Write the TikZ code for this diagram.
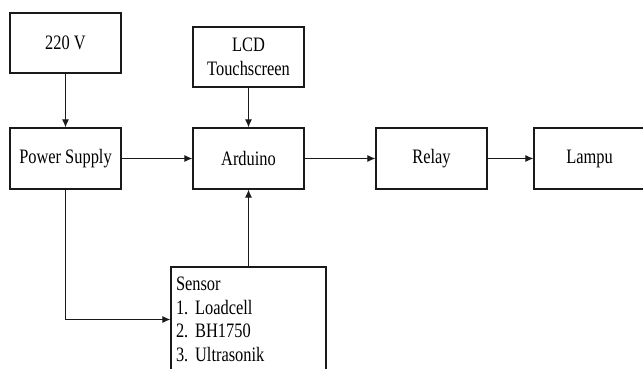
\documentclass[tikz,border=0pt]{standalone}
\usepackage{fontspec}
\setmainfont{Liberation Serif}[FakeStretch=0.8]
\usetikzlibrary{arrows.meta, positioning}
\definecolor{bline}{HTML}{1A1A1A}
\tikzset{
  >=Latex,
  font=\fontsize{20.5}{23.5}\selectfont\frenchspacing,
  blok/.style={
    draw=bline, fill=white, line width=1.2pt,
    align=center, inner sep=4pt,
    minimum width=111pt, minimum height=61pt
  },
  daftar/.style={
    draw=bline, fill=white, line width=1.2pt,
    align=left, inner xsep=5pt, text width=145pt,
    minimum height=105pt
  },
  arr/.style={-{Latex[length=8pt,width=7pt]}, line width=1.1pt, draw=bline}
}
\begin{document}
\begin{tikzpicture}[x=1pt,y=-1pt]
  \clip (0,0) rectangle (643,369);
  \fill[white] (0,0) rectangle (643,369);
  % top row
  \node[blok,minimum height=60pt] (v220) at (65.5,43) {220 V};
  \node[blok,minimum height=60pt] (lcd) at (248.5,57) {LCD\\Touchscreen};
  % main chain
  \node[blok] (psu) at (65.5,158.5) {Power Supply};
  \node[blok] (ard) at (248.5,158.5) {Arduino};
  \node[blok] (relay) at (431.5,158.5) {Relay};
  \node[blok] (lampu) at (589.5,158.5) {Lampu};
  % sensors
  \node[daftar] (sensor) at (248.5,319.5)
    {Sensor\\1. Loadcell\\2. BH1750\\3. Ultrasonik};

  \draw[arr] (v220) -- (psu);
  \draw[arr] (lcd) -- (ard);
  \draw[arr] (psu) -- (ard);
  \draw[arr] (ard) -- (relay);
  \draw[arr] (relay) -- (lampu);
  \draw[arr] (sensor.north) -- (ard.south);
  \draw[arr] (psu.south) |- (sensor.west);
\end{tikzpicture}
\end{document}
